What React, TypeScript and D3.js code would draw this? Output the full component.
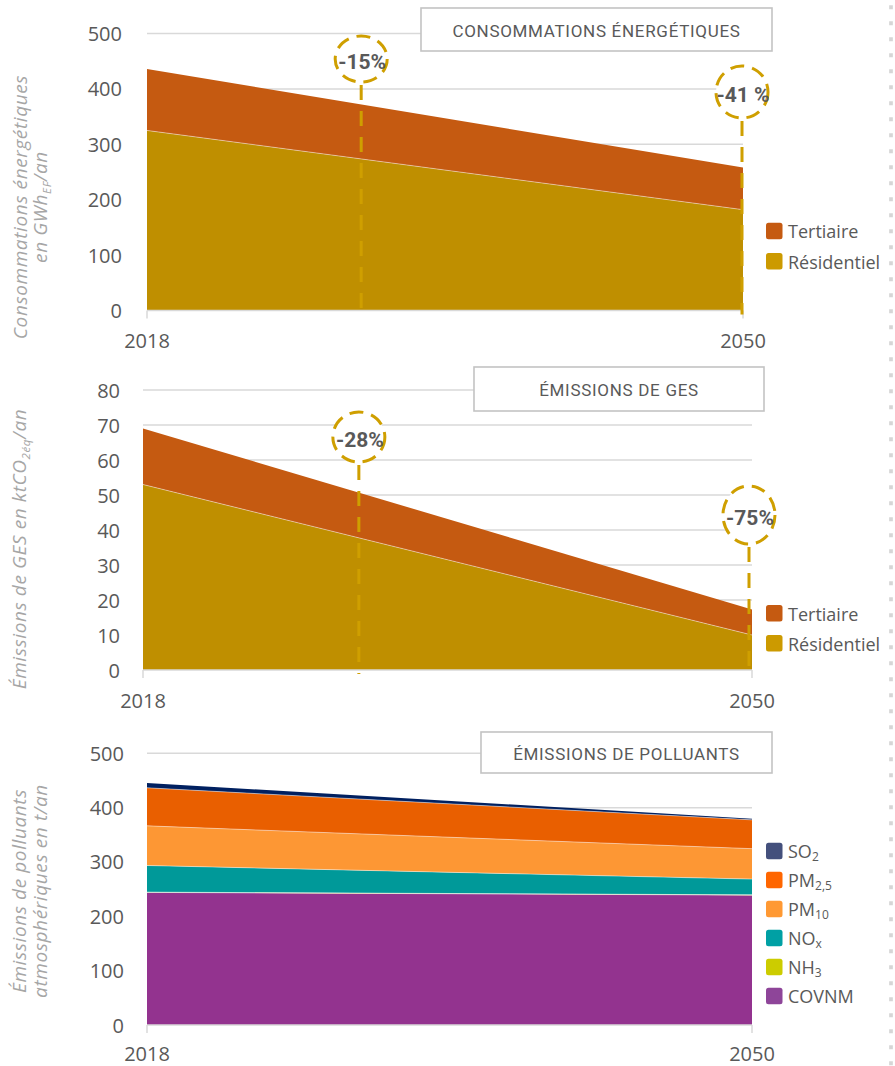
import React from "react";
import * as d3 from "d3";

// ---------------- DATA ----------------
const years = [2018, 2050];
const markerYear = 2029.5;

const energyKeys = ["Résidentiel", "Tertiaire"];
const energyResidentiel = [325, 182];
const energyTertiaire = [111, 76];
const energyTicks = [0, 100, 200, 300, 400, 500];
const energyReductions = ["-15%", "-41 %"];

const gesKeys = ["Résidentiel", "Tertiaire"];
const gesResidentiel = [53, 10];
const gesTertiaire = [16, 7.3];
const gesTicks = [0, 10, 20, 30, 40, 50, 60, 70, 80];
const gesReductions = ["-28%", "-75%"];

const polKeys = ["COVNM", "NH_3", "NO_x", "PM_10", "PM_2,5", "SO_2"];
const polCOVNM = [244, 239];
const polNH3 = [0.5, 0.5];
const polNOx = [49, 29];
const polPM10 = [73, 56];
const polPM25 = [70, 53];
const polSO2 = [9, 2];
const polTicks = [0, 100, 200, 300, 400, 500];

const titles = ["CONSOMMATIONS ÉNERGÉTIQUES", "ÉMISSIONS DE GES", "ÉMISSIONS DE POLLUANTS"];
const yTitles = [
  ["Consommations énergétiques", "en GWh{EF}/an"],
  ["Émissions de GES en ktCO{2éq}/an"],
  ["Émissions de polluants", "atmosphériques en t/an"],
];

// ---------------- STYLE ----------------
const C_TERT = "#c55a11";
const C_RES = "#bf8f00";
const C_RES_LEG = "#cc9a00";
const C_DASH = "#cf9f00";
const GRID = "#d9d9d9";
const TXT = "#595959";
const polAreaColors = ["#93338f", "#cccc00", "#009999", "#fd9734", "#e95f00", "#002060"];
const polLegColors = ["#8e4599", "#cccc00", "#00a0a4", "#ff9933", "#ff6600", "#44507c"];

type Seg = { t: string; sub?: boolean };
function parseRich(s: string): Seg[] {
  const out: Seg[] = [];
  const re = /\{([^}]*)\}|([^{]+)/g;
  let m: RegExpExecArray | null;
  while ((m = re.exec(s))) {
    if (m[1] !== undefined) out.push({ t: m[1], sub: true });
    else out.push({ t: m[2] });
  }
  return out;
}
function legendToRich(s: string) {
  const i = s.indexOf("_");
  return i < 0 ? s : s.slice(0, i) + "{" + s.slice(i + 1) + "}";
}
function Rich({ s, subSize, shift }: { s: string; subSize: number; shift: number }) {
  const segs = parseRich(s);
  let prevSub = false;
  return (
    <>
      {segs.map((seg, i) => {
        let dy = 0;
        if (seg.sub) dy = shift;
        else if (prevSub) dy = -shift;
        prevSub = !!seg.sub;
        return (
          <tspan key={i} dy={dy} fontSize={seg.sub ? subSize : undefined}>
            {seg.t}
          </tspan>
        );
      })}
    </>
  );
}

type Series = { key: string; values: number[]; color: string; legColor: string };
type Ann = { year: number; label: string; cy: number; rx: number; ry: number; dx: number };
type Cfg = {
  x0: number; x1: number; yTop: number; yBottom: number; max: number; ticks: number[];
  tickRight: number; series: Series[]; title: string; box: [number, number, number, number];
  yTitle: string[]; yTitleX: number[]; yTitleCY: number; legTop: number; legStep: number;
  anns: Ann[]; legFont: number; yearDy: number;
};

function Panel({ cfg }: { cfg: Cfg }) {
  const x = d3.scaleLinear().domain([years[0], years[years.length - 1]]).range([cfg.x0, cfg.x1]);
  const y = d3.scaleLinear().domain([0, cfg.max]).range([cfg.yBottom, cfg.yTop]);
  const rows = years.map((yr, i) => {
    const r: any = { year: yr };
    cfg.series.forEach((s) => (r[s.key] = s.values[i]));
    return r;
  });
  const stacked = d3.stack<any>().keys(cfg.series.map((s) => s.key))(rows);
  const area = d3
    .area<any>()
    .x((d) => x(d.data.year))
    .y0((d) => y(d[0]))
    .y1((d) => y(d[1]));
  const topLine = d3
    .line<any>()
    .x((d) => x(d.data.year))
    .y((d) => y(d[1]));
  const [bx, by, bw, bh] = cfg.box;
  const legItems = [...cfg.series].reverse();
  return (
    <g>
      {cfg.ticks.map((t) => (
        <g key={t}>
          {t > 0 && <line x1={cfg.x0} x2={cfg.x1} y1={y(t)} y2={y(t)} stroke={GRID} strokeWidth={1.5} />}
          <text
            x={cfg.tickRight}
            y={y(t)}
            textAnchor="end"
            dominantBaseline="central"
            fontFamily="Open Sans"
            fontSize={20}
            fill={TXT}
          >
            {t}
          </text>
        </g>
      ))}
      {stacked.map((layer, i) => (
        <path key={layer.key} d={area(layer) || ""} fill={cfg.series[i].color} />
      ))}
      {stacked.slice(0, -1).map((layer) => (
        <path key={"l" + layer.key} d={topLine(layer) || ""} fill="none" stroke="#fff" strokeOpacity={0.45} strokeWidth={1} />
      ))}
      <line x1={cfg.x0} x2={cfg.x1} y1={cfg.yBottom} y2={cfg.yBottom} stroke={GRID} strokeWidth={1.5} />
      {years.map((yr) => (
        <g key={yr}>
          <line x1={x(yr)} x2={x(yr)} y1={cfg.yBottom} y2={cfg.yBottom + 8} stroke={GRID} strokeWidth={1.5} />
          <text x={x(yr)} y={cfg.yBottom + cfg.yearDy} textAnchor="middle" fontFamily="Open Sans" fontSize={20} fill={TXT}>
            {yr}
          </text>
        </g>
      ))}
      {/* title box */}
      <rect x={bx} y={by} width={bw} height={bh} fill="#fff" stroke="#c3c3c3" strokeWidth={1.6} />
      <text
        x={bx + bw / 2}
        y={by + bh / 2 + 1}
        textAnchor="middle"
        dominantBaseline="central"
        fontFamily="Roboto"
        fontWeight={400}
        fontSize={17}
        letterSpacing={0.7}
        fill={TXT}
      >
        {cfg.title}
      </text>
      {/* annotations */}
      {cfg.anns.map((a, i) => {
        const cx = x(a.year) + a.dx;
        return (
          <g key={i}>
            <line
              x1={cx}
              x2={cx}
              y1={a.cy + a.ry + 3}
              y2={cfg.yBottom + 4}
              stroke={C_DASH}
              strokeWidth={3}
              strokeDasharray="15 11"
            />
            <ellipse cx={cx} cy={a.cy} rx={a.rx} ry={a.ry} fill="#fff" stroke={C_DASH} strokeWidth={3} strokeDasharray="14 8" />
            <text
              x={cx + 1}
              y={a.cy + 3}
              textAnchor="middle"
              dominantBaseline="central"
              fontFamily="Roboto"
              fontWeight={700}
              fontSize={21}
              fill={TXT}
            >
              {a.label}
            </text>
          </g>
        );
      })}
      {/* legend */}
      {legItems.map((s, i) => {
        const ty = cfg.legTop + i * cfg.legStep;
        return (
          <g key={s.key}>
            <rect x={766} y={ty} width={16.5} height={16.5} rx={2.5} fill={s.legColor} />
            <text
              x={788}
              y={ty + 8.5}
              dominantBaseline="central"
              fontFamily="Open Sans"
              fontSize={cfg.legFont}
              fill={TXT}
            >
              <Rich s={legendToRich(s.key)} subSize={12} shift={5} />
            </text>
          </g>
        );
      })}
      {/* y title */}
      {cfg.yTitle.map((line, i) => (
        <text
          key={i}
          transform={`translate(${cfg.yTitleX[i]},${cfg.yTitleCY}) rotate(-90)`}
          textAnchor="middle"
          fontFamily="Open Sans"
          fontStyle="italic"
          fontSize={19}
          letterSpacing={0.6}
          fill="#a6a6a6"
        >
          <Rich s={line} subSize={11.5} shift={4} />
        </text>
      ))}
    </g>
  );
}

export default function App() {
  const panels: Cfg[] = [
    {
      x0: 147, x1: 743, yTop: 33.5, yBottom: 310.5, max: 500, ticks: energyTicks, tickRight: 122,
      series: [
        { key: energyKeys[0], values: energyResidentiel, color: C_RES, legColor: C_RES_LEG },
        { key: energyKeys[1], values: energyTertiaire, color: C_TERT, legColor: C_TERT },
      ],
      title: titles[0], box: [421, 8, 351, 43], yTitle: yTitles[0], yTitleX: [27, 47], yTitleCY: 207,
      legTop: 222.7, legStep: 30.3, legFont: 18, yearDy: 37.5,
      anns: [
        { year: markerYear, label: energyReductions[0], cy: 59, rx: 26, ry: 23, dx: 0 },
        { year: years[1], label: energyReductions[1], cy: 92, rx: 26, ry: 26, dx: -1 },
      ],
    },
    {
      x0: 143, x1: 752, yTop: 390, yBottom: 670, max: 80, ticks: gesTicks, tickRight: 120,
      series: [
        { key: gesKeys[0], values: gesResidentiel, color: C_RES, legColor: C_RES_LEG },
        { key: gesKeys[1], values: gesTertiaire, color: C_TERT, legColor: C_TERT },
      ],
      title: titles[1], box: [474, 367, 290, 44], yTitle: yTitles[1], yTitleX: [26], yTitleCY: 549,
      legTop: 605, legStep: 30, legFont: 18, yearDy: 37.5,
      anns: [
        { year: markerYear, label: gesReductions[0], cy: 437, rx: 26, ry: 25, dx: -3 },
        { year: years[1], label: gesReductions[1], cy: 515, rx: 26, ry: 29, dx: -3 },
      ],
    },
    {
      x0: 147, x1: 752, yTop: 753.3, yBottom: 1025, max: 500, ticks: polTicks, tickRight: 124,
      series: [
        { key: polKeys[0], values: polCOVNM, color: polAreaColors[0], legColor: polLegColors[0] },
        { key: polKeys[1], values: polNH3, color: polAreaColors[1], legColor: polLegColors[1] },
        { key: polKeys[2], values: polNOx, color: polAreaColors[2], legColor: polLegColors[2] },
        { key: polKeys[3], values: polPM10, color: polAreaColors[3], legColor: polLegColors[3] },
        { key: polKeys[4], values: polPM25, color: polAreaColors[4], legColor: polLegColors[4] },
        { key: polKeys[5], values: polSO2, color: polAreaColors[5], legColor: polLegColors[5] },
      ],
      title: titles[2], box: [481, 732, 291, 41], yTitle: yTitles[2], yTitleX: [26, 47], yTitleCY: 891,
      legTop: 842.7, legStep: 29, legFont: 18, yearDy: 36,
      anns: [],
    },
  ];
  return (
    <svg
      width={895}
      height={1066}
      style={{ position: "absolute", left: 0, top: 0, background: "#fff" }}
    >
      <rect width={895} height={1066} fill="#fff" />
      <line x1={891} x2={891} y1={5.3} y2={1066} stroke="#d6d6d6" strokeWidth={3.7} strokeDasharray="4 12" />
      {panels.map((p, i) => (
        <Panel key={i} cfg={p} />
      ))}
    </svg>
  );
}
